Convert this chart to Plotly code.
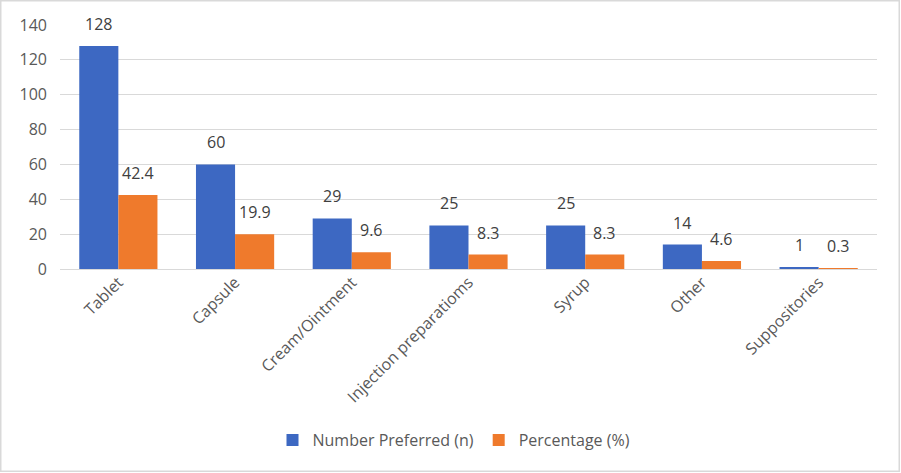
import plotly.graph_objects as go

categories = ["Tablet", "Capsule", "Cream/Ointment", "Injection preparatioms",
              "Syrup", "Other", "Suppositories"]
number_preferred = [128, 60, 29, 25, 25, 14, 1]
percentage = [42.4, 19.9, 9.6, 8.3, 8.3, 4.6, 0.3]
y_ticks = [0, 20, 40, 60, 80, 100, 120, 140]

W, H = 901, 473
ML, MR, MT, MB = 60, 24, 25, 204
pw = W - ML - MR
ph = H - MT - MB
bar_px = pw / len(categories) * (1 - 0.33) / 2

font_family = "Open Sans, Noto Sans, sans-serif"
grey = "#595959"

fig = go.Figure()
fig.add_trace(go.Bar(
    x=categories, y=number_preferred, name="Number Preferred (n)",
    marker=dict(color="#3D68C2", line=dict(width=0)),
))
fig.add_trace(go.Bar(
    x=categories, y=percentage, name="Percentage (%)",
    marker=dict(color="#EF7A2C", line=dict(width=0)),
))

# data labels, raised a little above the bars like the Excel original
for cat, n, p in zip(categories, number_preferred, percentage):
    for val, shift in ((n, -bar_px / 2), (p, bar_px / 2)):
        fig.add_annotation(
            x=cat, y=val, xref="x", yref="y", text=str(val),
            showarrow=False, xshift=shift, yshift=9, yanchor="bottom",
            font=dict(family=font_family, size=16, color="#404040"),
        )

# thin grey frame round the whole chart
fig.add_shape(
    type="rect", xref="paper", yref="paper",
    x0=(0.75 - ML) / pw, x1=(W - 1.75 - ML) / pw,
    y0=(H - MB - (H - 1.75)) / ph, y1=(H - MB - 0.75) / ph,
    line=dict(color="#D9D9D9", width=1.5), layer="below",
)

fig.update_layout(
    width=W, height=H,
    margin=dict(l=ML, r=MR, t=MT, b=MB, autoexpand=False),
    paper_bgcolor="white", plot_bgcolor="white",
    font=dict(family=font_family, size=16, color=grey),
    barmode="group", bargap=0.33, bargroupgap=0,
    xaxis=dict(tickangle=-45, showline=False, showgrid=False, ticks="",
               automargin=False, tickfont=dict(size=16, color=grey)),
    yaxis=dict(range=[0, 140], tickvals=y_ticks, showgrid=True,
               gridcolor="#D9D9D9", gridwidth=1, zeroline=True,
               zerolinecolor="#D9D9D9", zerolinewidth=1, showline=False,
               automargin=False, ticklabelstandoff=12,
               tickfont=dict(size=16, color=grey)),
    legend=dict(orientation="h", x=(454 - ML) / pw, xanchor="center",
                y=(H - MB - 440) / ph, yanchor="middle",
                font=dict(size=16, color=grey), traceorder="normal"),
)

fig.write_html(
    "out.html",
    config={"displayModeBar": False},
    post_script="document.body.style.margin='0px';"
                "document.body.style.overflow='hidden';",
)
